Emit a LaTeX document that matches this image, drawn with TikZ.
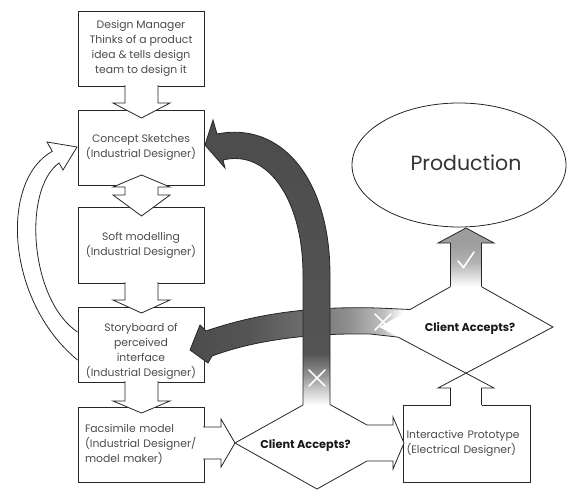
\documentclass[tikz,border=0pt]{standalone}
\usepackage{fontspec}
\setmainfont{Poppins}
\usetikzlibrary{shapes.geometric}
\definecolor{txtgray}{rgb}{0.3,0.3,0.3}
\definecolor{prodgray}{rgb}{0.2,0.2,0.2}
\pgfdeclareverticalshading{vdark}{100bp}{rgb(0bp)=(1,1,1); rgb(25bp)=(1,1,1); rgb(27bp)=(0.85,0.85,0.85); rgb(30bp)=(0.6,0.6,0.6); rgb(34bp)=(0.33,0.33,0.33); rgb(100bp)=(0.28,0.28,0.28)}
\pgfdeclarehorizontalshading{hgrey}{100bp}{rgb(0bp)=(0.3,0.3,0.3); rgb(25bp)=(0.3,0.3,0.3); rgb(38bp)=(0.33,0.33,0.33); rgb(50bp)=(0.42,0.42,0.42); rgb(61bp)=(0.56,0.56,0.56); rgb(69bp)=(0.75,0.75,0.75); rgb(73.5bp)=(1,1,1); rgb(100bp)=(1,1,1)}
\pgfdeclareverticalshading{vup}{100bp}{rgb(0bp)=(1,1,1); rgb(25bp)=(1,1,1); rgb(35bp)=(0.85,0.85,0.85); rgb(46bp)=(0.7,0.7,0.7); rgb(60bp)=(0.62,0.62,0.62); rgb(100bp)=(0.6,0.6,0.6)}
\begin{document}
\begin{tikzpicture}[x=1pt,y=-1pt,line join=miter,
  box/.style={draw=black!85, line width=0.8pt, fill=white, minimum width=126pt, minimum height=75pt, inner sep=0pt, align=center, text=txtgray, font=\fontsize{10.8}{15}\selectfont},
  btext/.style={inner sep=0pt, align=center, text=txtgray, font=\fontsize{10.8}{15}\selectfont},
  barrow/.style={draw=black!85, line width=0.8pt, fill=white},
  edge/.style={draw=black!85, line width=0.8pt},
  qtext/.style={font=\fontsize{11.3}{13}\selectfont\bfseries, text=black!90},
  xmark/.style={draw=white, line width=1.6pt, line cap=round}]
\useasboundingbox (0,0) rectangle (567,490);

% boxes
\node[box] (dm) at (141,48.5) {Design Manager\\Thinks of a product\\idea \& tells design\\team to design it};
\node[box] (cs) at (141,147.5) {Concept Sketches\\(Industrial Designer)};
\node[box, minimum height=76pt] (sm) at (141,245) {Soft modelling\\(Industrial Designer)};
\node[box] (sb) at (141,344.5) {};
\node[btext] (sbt) at (141,351) {Storyboard of\\perceived\\interface\\(Industrial Designer)};
\node[box, align=left, text width=112pt] (fm) at (141,444.5) {Facsimile model\\(Industrial Designer/\\model maker)};
\node[box, minimum width=127pt, minimum height=77pt, align=left, text width=120pt] (ip) at (466.5,443.5) {Interactive Prototype\\(Electrical Designer)};

% production ellipse
\node[draw=black!85, line width=0.8pt, ellipse, minimum width=214pt, minimum height=124pt, inner sep=0pt] (prod) at (459,165) {};
\node[font=\fontsize{20.5}{24}\selectfont, text=prodgray] (prodtxt) at (466,163) {Production};

% white block arrows, left column
\filldraw[barrow] (125,85) -- (125,103) -- (113,103) -- (141.5,118) -- (170,103) -- (158,103) -- (158,85);
\filldraw[barrow] (141.5,175) -- (170,187) -- (158,187) -- (158,195) -- (170,195) -- (141.5,216) -- (113,195) -- (125,195) -- (125,187) -- (113,187) -- cycle;
\filldraw[barrow] (125,282) -- (125,300) -- (113,300) -- (141.5,313) -- (170,300) -- (158,300) -- (158,282);
\filldraw[barrow] (125,381) -- (125,401) -- (113,401) -- (141.5,413) -- (170,401) -- (158,401) -- (158,381);

% curved white arrow back to concept sketches
\filldraw[barrow] (77.5,360) .. controls (5,300) and (0,180) .. (52.3,151.3) -- (47,142) -- (77,147) -- (63,170) -- (59,163) .. controls (22,190) and (30,300) .. (77.5,332);

% facsimile -> lower diamond
\filldraw[barrow] (203,427) -- (221,427) -- (221,419) -- (235,443) -- (221,467) -- (221,459) -- (203,459);

% lower diamond with arrow to prototype
\filldraw[barrow] (303,405) -- (235,443) -- (317,489) -- (367,461) -- (393,461) -- (393,469) -- (404,443) -- (393,417) -- (393,425) -- (367,425) -- (330,404.5);

% horizontal rejected arrow (upper diamond -> storyboard)
\path[shading=hgrey] (410,309.5) -- (378,308) .. controls (310,306) and (255,314) .. (206,331) -- (200,325) -- (190,350) -- (208,363) -- (212,356) .. controls (255,340) and (310,333) .. (370,334) -- (398,337.1) -- (379,327) -- cycle;
\draw[edge] (410,309.5) -- (378,308) .. controls (310,306) and (255,314) .. (206,331) -- (200,325) -- (190,350) -- (208,363) -- (212,356) .. controls (255,340) and (310,333) .. (370,334) -- (398,337.1);

% vertical rejected arrow (lower diamond -> concept sketches)
\path[shading=vdark] (303,405) -- (303,275) .. controls (303,200) and (268,149) .. (223,160) -- (225,168) -- (205,145) -- (213,120) -- (217,134) .. controls (282,121) and (330,180) .. (330,275) -- (330,404.5) -- cycle;
\draw[edge] (303,405) -- (303,275) .. controls (303,200) and (268,149) .. (223,160) -- (225,168) -- (205,145) -- (213,120) -- (217,134) .. controls (282,121) and (330,180) .. (330,275) -- (330,404.5);

% upper diamond and arrow from prototype
\fill[white] (450.5,406.5) rectangle (481.5,388);
\draw[edge] (450.5,405) -- (450.5,388) -- (438,388) -- (553,327) -- (481.5,286.7);
\draw[edge] (450.5,286.7) -- (410,309.5);
\draw[edge] (398,337.1) -- (494,388) -- (481.5,388) -- (481.5,405);

% accepted arrow to production
\path[shading=vup] (450.5,286.7) -- (450.5,243) -- (438,243) -- (466,228) -- (494,243) -- (481.5,243) -- (481.5,286.7) -- cycle;
\draw[edge] (450.5,286.7) -- (450.5,243) -- (438,243) -- (466,228) -- (494,243) -- (481.5,243) -- (481.5,286.7);

% marks
\draw[xmark] (458,261) -- (463.5,267.5) -- (474,252);
\draw[xmark] (375,314) -- (391,330) (375,330) -- (391,314);
\draw[xmark] (309,370) -- (325,386) (309,386) -- (325,370);

% diamond texts
\node[qtext] (q1) at (470,328) {Client Accepts?};
\node[qtext] (q2) at (305.5,445) {Client Accepts?};
\end{tikzpicture}
\end{document}
